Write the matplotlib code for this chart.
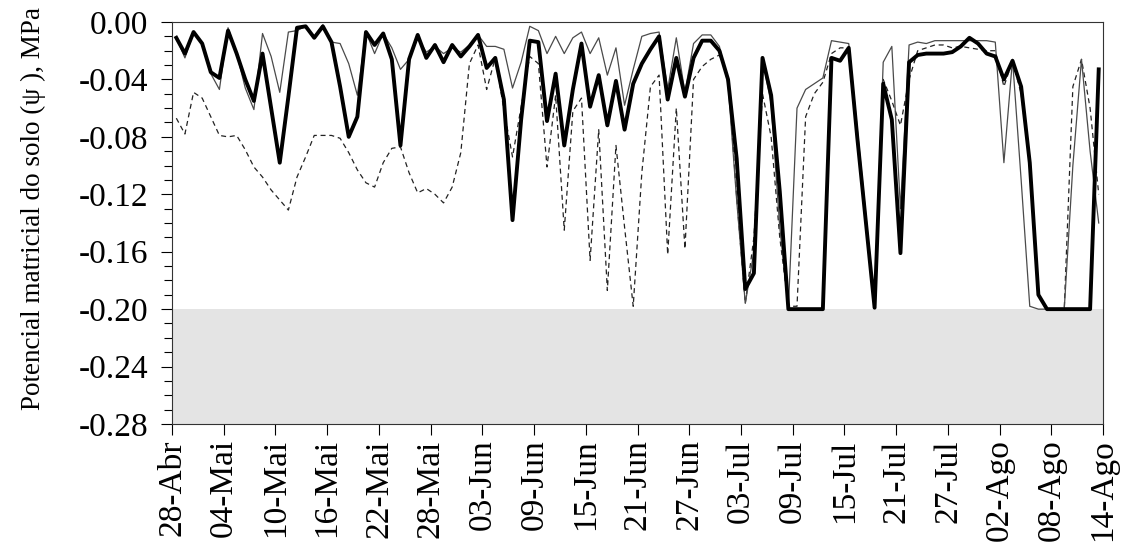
import numpy as np
import matplotlib
matplotlib.use("Agg")
import matplotlib.pyplot as plt
from matplotlib.ticker import MultipleLocator, FormatStrFormatter

# --- Data (daily soil matric potential, MPa) ---
tick_labels = ['28-Abr', '04-Mai', '10-Mai', '16-Mai', '22-Mai', '28-Mai', '03-Jun',
               '09-Jun', '15-Jun', '21-Jun', '27-Jun', '03-Jul', '09-Jul', '15-Jul',
               '21-Jul', '27-Jul', '02-Ago', '08-Ago', '14-Ago']

psi_thick = [-0.011, -0.022, -0.007, -0.015, -0.035, -0.039, -0.006, -0.022, -0.040, -0.055,
             -0.022, -0.060, -0.098, -0.052, -0.004, -0.003, -0.011, -0.003, -0.014, -0.045,
             -0.080, -0.066, -0.007, -0.016, -0.008, -0.026, -0.086, -0.026, -0.009, -0.025,
             -0.016, -0.028, -0.016, -0.024, -0.017, -0.009, -0.032, -0.025, -0.054, -0.138,
             -0.068, -0.013, -0.014, -0.069, -0.036, -0.086, -0.047, -0.015, -0.059, -0.037,
             -0.072, -0.041, -0.075, -0.043, -0.029, -0.019, -0.010, -0.054, -0.025, -0.052,
             -0.025, -0.013, -0.013, -0.020, -0.040, -0.095, -0.186, -0.175, -0.025, -0.051,
             -0.118, -0.200, -0.200, -0.200, -0.200, -0.200, -0.025, -0.027, -0.018, -0.081,
             -0.140, -0.199, -0.043, -0.068, -0.161, -0.028, -0.023, -0.022, -0.022, -0.022,
             -0.021, -0.017, -0.011, -0.015, -0.022, -0.024, -0.040, -0.027, -0.045, -0.098,
             -0.190, -0.200, -0.200, -0.200, -0.200, -0.200, -0.200, -0.033]

psi_thin = [-0.011, -0.025, -0.007, -0.015, -0.036, -0.047, -0.004, -0.022, -0.046, -0.061,
            -0.008, -0.024, -0.049, -0.007, -0.006, -0.003, -0.010, -0.002, -0.014, -0.015,
            -0.029, -0.051, -0.007, -0.022, -0.008, -0.018, -0.033, -0.026, -0.011, -0.021,
            -0.017, -0.022, -0.018, -0.021, -0.016, -0.009, -0.017, -0.017, -0.019, -0.046,
            -0.028, -0.003, -0.006, -0.022, -0.010, -0.022, -0.011, -0.007, -0.022, -0.011,
            -0.037, -0.018, -0.058, -0.033, -0.010, -0.008, -0.007, -0.047, -0.011, -0.049,
            -0.015, -0.009, -0.009, -0.017, -0.043, -0.124, -0.196, -0.160, -0.026, -0.057,
            -0.143, -0.199, -0.060, -0.047, -0.043, -0.039, -0.013, -0.014, -0.015, -0.075,
            -0.135, -0.197, -0.028, -0.017, -0.130, -0.016, -0.014, -0.015, -0.013, -0.013,
            -0.013, -0.013, -0.013, -0.013, -0.013, -0.014, -0.098, -0.026, -0.110, -0.198,
            -0.200, -0.200, -0.200, -0.200, -0.100, -0.026, -0.090, -0.140]

psi_dashed = [-0.067, -0.078, -0.049, -0.053, -0.066, -0.079, -0.080, -0.079, -0.089, -0.101,
              -0.108, -0.117, -0.124, -0.131, -0.108, -0.094, -0.079, -0.079, -0.079, -0.081,
              -0.091, -0.103, -0.112, -0.115, -0.098, -0.088, -0.087, -0.105, -0.119, -0.116,
              -0.120, -0.126, -0.115, -0.091, -0.029, -0.016, -0.047, -0.025, -0.061, -0.094,
              -0.059, -0.024, -0.029, -0.101, -0.051, -0.145, -0.062, -0.053, -0.166, -0.075,
              -0.187, -0.086, -0.143, -0.198, -0.105, -0.045, -0.037, -0.162, -0.060, -0.158,
              -0.040, -0.031, -0.026, -0.023, -0.038, -0.122, -0.196, -0.150, -0.050, -0.080,
              -0.150, -0.198, -0.198, -0.066, -0.050, -0.042, -0.022, -0.018, -0.018, -0.080,
              -0.140, -0.199, -0.040, -0.055, -0.072, -0.040, -0.020, -0.018, -0.016, -0.016,
              -0.018, -0.017, -0.018, -0.019, -0.020, -0.020, -0.045, -0.027, -0.050, -0.100,
              -0.190, -0.200, -0.200, -0.200, -0.045, -0.026, -0.060, -0.120]

# days since 28-Abr, points centred in each daily category
days = np.arange(len(psi_thick)) + 0.5
tick_pos = np.arange(0, 6 * len(tick_labels), 6)

# --- Plotting ---
plt.rcParams['font.family'] = ['Liberation Serif', 'DejaVu Serif']
plt.rcParams['axes.unicode_minus'] = False

fig = plt.figure(figsize=(11.22, 5.5), dpi=100)
ax = fig.add_axes([0.1533, 0.2291, 0.8298, 0.7309])

ax.axhspan(-0.28, -0.20, color='#e4e4e4', lw=0, zorder=0)

ax.plot(days, psi_dashed, color='#222222', lw=0.9, ls=(0, (4, 3)), zorder=2)
ax.plot(days, psi_thin, color='#4a4a4a', lw=0.9, zorder=3)
ax.plot(days, psi_thick, color='black', lw=2.8, zorder=4)

ax.set_xlim(0, 108)
ax.set_ylim(-0.28, 0.0)

ax.set_xticks(tick_pos)
ax.set_xticklabels(tick_labels, rotation=90)
ax.yaxis.set_major_locator(MultipleLocator(0.04))
ax.yaxis.set_minor_locator(MultipleLocator(0.01))
ax.yaxis.set_major_formatter(FormatStrFormatter('%.2f'))

ax.tick_params(axis='y', which='major', direction='out', length=8, width=0.8, pad=9, labelsize=24)
ax.tick_params(axis='y', which='minor', direction='out', length=6, width=0.8)
ax.tick_params(axis='x', which='major', direction='out', length=8, width=0.8, pad=3, labelsize=24)

for s in ax.spines.values():
    s.set_linewidth(0.8)
    s.set_color('#333333')

ax.set_ylabel("Potencial matricial do solo (ψ ), MPa", fontsize=19.5)
ax.yaxis.set_label_coords(-0.135, 0.535)

fig.savefig("out.png", dpi=100)
plt.close(fig)
